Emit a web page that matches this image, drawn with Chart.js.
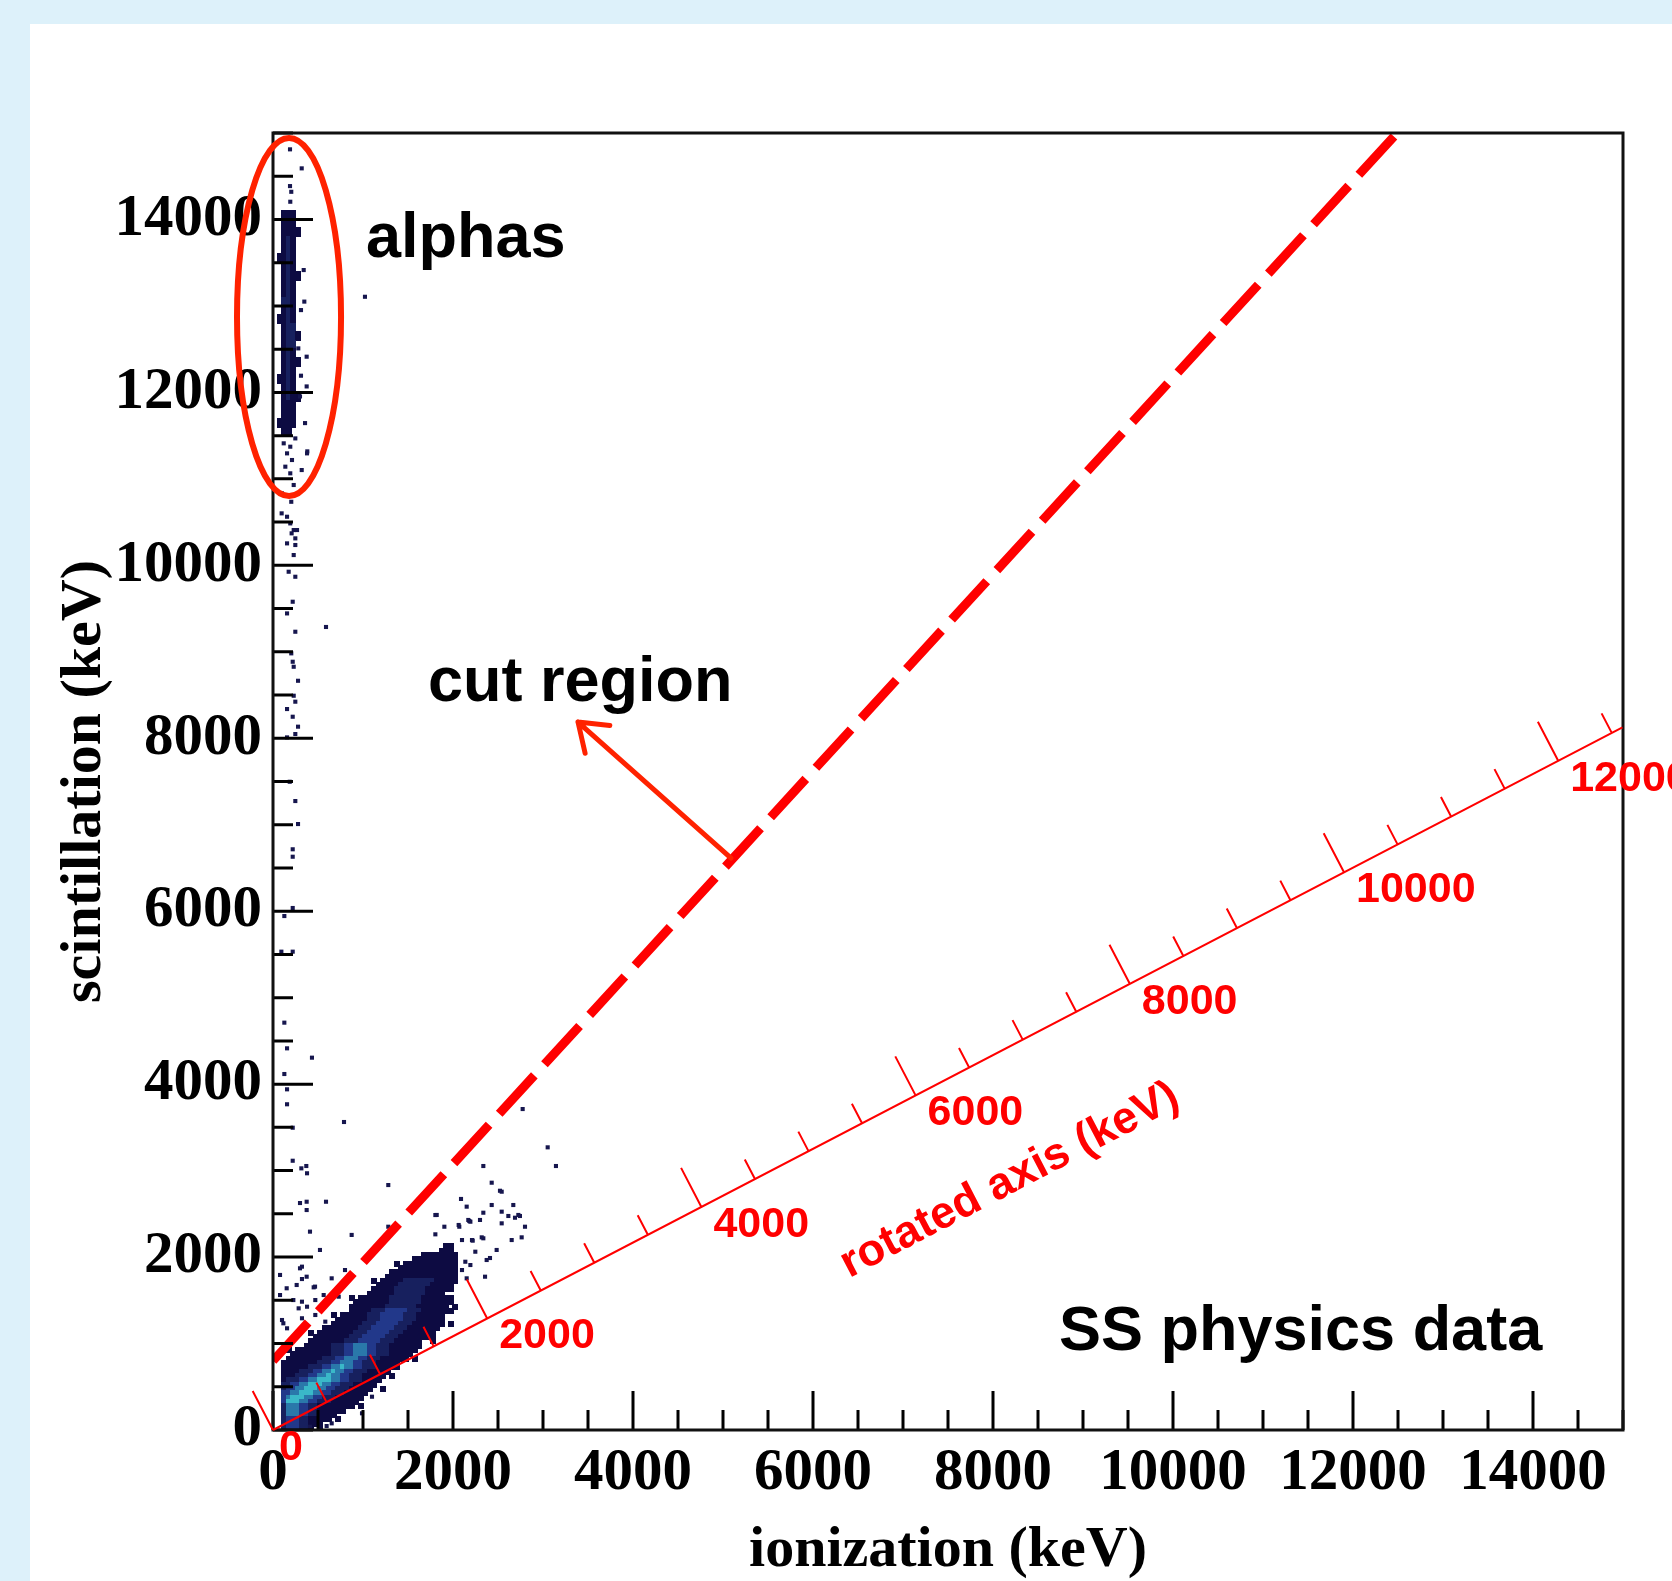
<!DOCTYPE html>
<html>
<head>
<meta charset="utf-8">
<script src="https://cdn.jsdelivr.net/npm/chart.js@4"></script>
<style>
  html, body { margin: 0; padding: 0; background: #ddf1fa; }
</style>
</head>
<body>
<canvas id="chart" width="1672" height="1581"></canvas>
<script>
const W = 1672, H = 1581;

// main axes (keV)
const xTicks = [0, 2000, 4000, 6000, 8000, 10000, 12000, 14000];
const yTicks = [0, 2000, 4000, 6000, 8000, 10000, 12000, 14000];
const axisMax = 15000;
const minorStep = 500;

// cut line
const cutLine = [{ x: 0, y: 800 }, { x: 12490, y: 15000 }];

// rotated axis: ticks in rotated keV, direction in (ionization, scintillation) keV per rotated keV
const rotTicks = [0, 2000, 4000, 6000, 8000, 10000, 12000];
const rotAxisMax = 12600;
const rotDir = [1.19, 0.645];

// gamma/beta band, 50 keV cells. each row: [first column, levels], top row first (2100-2150 keV)
// digit = colour level, '.' = empty
const blobBin = 50;
const blobTop = 2150;
const blobRows = [
  [38, "11"],
  [37, "111"],
  [33, "11111111"],
  [31, "1111111111"],
  [27, "1.111111111111"],
  [28, "1111111111111"],
  [26, "111111111111111"],
  [25, "1111111111111111"],
  [22, "1.11111222222211111"],
  [23, "11111222222211111"],
  [22, "111112222222111111"],
  [21, "11111122222221111."],
  [17, "1.111111122222221111111"],
  [18, "1111111122222221111111"],
  [17, "1111111122222221111111.1"],
  [16, ".11111222333332221111111"],
  [13, "1.11111122233333222111111"],
  [14, "111111122233333222111111"],
  [13, "1111111222333332221111111.1"],
  [11, "11111111222333332221111111"],
  [8,  "1.11111111222333332221111111"],
  [9,  "111111112223333322211111111."],
  [8,  "1111111122233333222111111..1"],
  [7,  "11111122233444332221111111"],
  [3,  "1.111111112223344433222111111"],
  [4,  "111111111222334443322211111"],
  [3,  "111111112223344433222111111.1"],
  [2,  "11111111222334443322211111."],
  [2,  "11111122233445443322211111"],
  [2,  "111122233445443322211111"],
  [2,  "11122233445443322211111.1"],
  [2,  "1222334455544332221111"],
  [2,  "223344555443322211111"],
  [2,  "23344555443322211111..1"],
  [2,  "3344555443322211111"],
  [2,  "345554433222111111"],
  [2,  "35554433222111111"],
  [2,  "2444332211111111.1"],
  [2,  "24443322111111"],
  [2,  "244433221111"],
  [2,  "23332211111.1"],
  [2,  "233322111"],
  [2,  "2333221.1"]
];

// alpha band, 50 x 100 keV cells, columns from 50 keV, top row first (14000-14100 keV)
const alphaBinX = 50, alphaBinY = 100, alphaX0 = 50, alphaTop = 14100;
const alphaRows = [
  [1, "111"], [1, "111"], [1, "1111"], [1, "121"], [1, "121"], [0, "1121"],
  [1, "121"], [1, "1211"], [1, "121"], [1, "121"], [1, "221"], [1, "121"],
  [0, "1121"], [1, "122"], [1, "1221"], [1, "122"], [1, "121"], [1, "1211"],
  [1, "121"], [0, "1121"], [1, "121"], [1, "1211"], [1, "111"], [1, "111"],
  [0, "1111"], [1, "11"]
];

// isolated events [ionization, scintillation]
const strays = [
  [189,14811],[319,14591],[189,14386],[203,14320],[192,14205],[341,13415],[1022,13106],[348,13050],
  [311,12952],[281,12509],[374,12413],[311,12193],[374,12069],[300,11953],[356,11645],[381,11318],
  [319,11102],[248,11468],[119,11411],[192,11372],[156,11295],[378,11295],[211,11218],[137,11141],
  [192,11064],[230,10929],[100,10832],[203,10735],[96,10601],[156,10562],[192,10485],[230,10408],
  [267,10408],[207,10370],[248,10312],[156,10254],[248,10235],[230,10119],[174,9926],[248,9868],
  [219,9579],[156,9444],[589,9287],[248,9232],[203,8982],[219,8885],[230,8827],[278,8665],
  [230,8492],[248,8423],[156,8338],[219,8249],[278,8134],[248,8049],[156,8010],[186,7497],
  [248,7274],[278,7008],[219,6716],[219,6630],[219,6037],[126,5944],[93,5532],[219,5532],
  [126,4711],[156,4414],[433,4306],[126,4117],[156,3940],[156,3767],[789,3562],[219,3496],
  [219,3114],[315,3026],[370,3053],[378,2969],
  [2774,3712],[3052,3269],[3144,3053],[2337,3053],[1281,2833],[2430,2860],[2522,2767],[2541,2756],
  [2089,2672],[300,2625],[374,2640],[589,2640],[374,2544],[2152,2583],[2430,2602],[2670,2602],
  [2541,2525],[2726,2487],[1819,2487],[2337,2513],[2615,2475],[2689,2455],[2744,2475],[2181,2417],
  [2541,2390],[2800,2351],[1904,2351],[2070,2351],[411,2294],[874,2256],[1281,2351],[2170,2429],
  [2300,2429],[2337,2217],[2652,2197],[2763,2228],[2319,2228],[2219,2190],[2485,2082],[2374,1966],
  [522,2082],[78,1793],[300,1870],[374,1773],[152,1639],[263,1677],[467,1658],[652,1754],
  [800,1850],[78,1561],[226,1503],[115,1234],[322,1889],[322,1746],[452,1650],[322,1484],
  [470,1503],[730,1542],[285,1407],[378,1426],[563,1561],[100,1272],[156,1176],[322,1292],
  [470,1330],[581,1253],[1804,2486],[2063,2371],[2193,2409],[1804,2263],[2100,2197],[2211,2197],
  [2248,2062],[2137,1946],[2100,1850],[2193,1908],[2356,1773],[2152,1754],[2411,1989],
  [1100,385],[989,193],[411,38],[596,46],[652,77]
];

const levelColors = [null, '#0d0b42', '#17205e', '#22388a', '#2a78aa', '#3ab8c8'];

function cellsFromRows(rows, x0, yTop, bx, by) {
  const pts = [];
  rows.forEach(([start, lv], r) => {
    for (let k = 0; k < lv.length; k++) {
      if (lv[k] === '.') continue;
      pts.push({ x: x0 + (start + k + 0.5) * bx, y: yTop - (r + 0.5) * by, lv: +lv[k] });
    }
  });
  return pts;
}

const cellCache = {};
function cellImage(context) {
  const raw = context.raw;
  if (!raw || !raw.lv) return 'rect';
  const ds = context.dataset;
  const xs = context.chart.scales.x, ys = context.chart.scales.y;
  const w = Math.ceil(Math.abs(xs.getPixelForValue(ds.binX) - xs.getPixelForValue(0))) + 1;
  const h = Math.ceil(Math.abs(ys.getPixelForValue(ds.binY) - ys.getPixelForValue(0))) + 1;
  const key = raw.lv + ':' + w + 'x' + h;
  if (!cellCache[key]) {
    const cv = document.createElement('canvas');
    cv.width = w; cv.height = h;
    const g = cv.getContext('2d');
    g.fillStyle = levelColors[raw.lv];
    g.fillRect(0, 0, w, h);
    cellCache[key] = cv;
  }
  return cellCache[key];
}

const serif = { family: 'Liberation Serif', weight: 'bold', size: 59, lineHeight: 1 };
const serifTitle = { family: 'Liberation Serif', weight: 'bold', size: 58, lineHeight: 1 };

const decor = {
  id: 'decor',
  beforeDraw(chart) {
    const c = chart.ctx;
    c.save();
    c.fillStyle = '#ddf1fa';
    c.fillRect(0, 0, W, H);
    c.fillStyle = '#ffffff';
    c.fillRect(30, 24, W - 30, H - 24);
    c.restore();
  },
  afterDatasetsDraw(chart) {
    const c = chart.ctx, a = chart.chartArea;
    const xs = chart.scales.x, ys = chart.scales.y;
    const P = (x, y) => [xs.getPixelForValue(x), ys.getPixelForValue(y)];
    c.save();

    // inward ticks on the main axes
    c.strokeStyle = '#000';
    c.lineWidth = 3;
    c.beginPath();
    for (let v = 0; v <= axisMax; v += minorStep) {
      const px = xs.getPixelForValue(v);
      c.moveTo(px, a.bottom);
      c.lineTo(px, a.bottom - (xTicks.includes(v) ? 39 : 20));
      const py = ys.getPixelForValue(v);
      c.moveTo(a.left, py);
      c.lineTo(a.left + (yTicks.includes(v) ? 40 : 20), py);
    }
    c.stroke();
    c.strokeStyle = '#111';
    c.strokeRect(a.left, a.top, a.right - a.left, a.bottom - a.top);

    // rotated axis
    const R = v => P(v * rotDir[0], v * rotDir[1]);
    const p0 = R(0), p1 = R(rotAxisMax);
    const len = Math.hypot(p1[0] - p0[0], p1[1] - p0[1]);
    const ux = (p1[0] - p0[0]) / len, uy = (p1[1] - p0[1]) / len;
    const nx = uy, ny = -ux;
    c.strokeStyle = '#ff0000';
    c.lineWidth = 2;
    c.beginPath();
    c.moveTo(p0[0], p0[1]);
    c.lineTo(p1[0], p1[1]);
    for (let v = 0; v <= rotAxisMax; v += minorStep) {
      const p = R(v);
      const L = rotTicks.includes(v) ? 44 : 22;
      c.moveTo(p[0], p[1]);
      c.lineTo(p[0] + nx * L, p[1] + ny * L);
    }
    c.stroke();
    c.fillStyle = '#ff0000';
    c.font = 'bold 43px "Liberation Sans"';
    c.textAlign = 'left';
    c.textBaseline = 'middle';
    rotTicks.forEach(v => {
      const p = R(v);
      c.fillText(String(v), p[0] + (v === 0 ? 6 : 12), p[1] + 18);
    });
    const pm = R(rotAxisMax / 2);
    c.save();
    c.translate(pm[0] - nx * 119 + ux * 8, pm[1] - ny * 119 + uy * 8);
    c.rotate(Math.atan2(uy, ux));
    c.font = 'bold 45px "Liberation Sans"';
    c.textAlign = 'center';
    c.fillText('rotated axis (keV)', 0, 0);
    c.restore();

    // alpha ellipse
    const ec = P(178, 12872);
    const rx = xs.getPixelForValue(178 + 578) - ec[0];
    const ry = ec[1] - ys.getPixelForValue(12872 + 2070);
    c.strokeStyle = '#ff2200';
    c.lineWidth = 6;
    c.beginPath();
    c.ellipse(ec[0], ec[1], rx, ry, 0, 0, Math.PI * 2);
    c.stroke();

    // arrow to "cut region"
    const s = P(5089, 6615), e = P(3389, 8188);
    const ang = Math.atan2(s[1] - e[1], s[0] - e[0]);
    c.lineWidth = 5;
    c.lineCap = 'round';
    c.beginPath();
    c.moveTo(s[0], s[1]);
    c.lineTo(e[0], e[1]);
    [0.62, -0.62].forEach(d => {
      c.moveTo(e[0], e[1]);
      c.lineTo(e[0] + 32 * Math.cos(ang + d), e[1] + 32 * Math.sin(ang + d));
    });
    c.stroke();

    // labels
    c.fillStyle = '#000';
    c.font = 'bold 63px "Liberation Sans"';
    c.textAlign = 'left';
    c.textBaseline = 'alphabetic';
    let t = P(1033, 13565);
    c.fillText('alphas', t[0], t[1]);
    t = P(1722, 8430);
    c.fillText('cut region', t[0], t[1]);
    t = P(8733, 925);
    c.fillText('SS physics data', t[0], t[1]);
    c.restore();
  }
};

new Chart(document.getElementById('chart'), {
  type: 'scatter',
  data: {
    datasets: [
      {
        type: 'line',
        label: 'cut',
        data: cutLine,
        borderColor: '#ff0000',
        borderWidth: 9,
        borderDash: [52, 15],
        pointRadius: 0,
        fill: false,
        tension: 0,
        order: 0
      },
      {
        label: 'single events',
        data: strays.map(p => ({ x: p[0], y: p[1] })),
        pointStyle: 'rect',
        pointRadius: 2.9,
        pointBorderWidth: 0,
        pointBackgroundColor: '#16164e',
        order: 1
      },
      {
        label: 'alphas',
        data: cellsFromRows(alphaRows, alphaX0, alphaTop, alphaBinX, alphaBinY),
        binX: alphaBinX, binY: alphaBinY,
        pointStyle: cellImage,
        pointRadius: 3,
        order: 2
      },
      {
        label: 'gammas',
        data: cellsFromRows(blobRows, 0, blobTop, blobBin, blobBin),
        binX: blobBin, binY: blobBin,
        pointStyle: cellImage,
        pointRadius: 3,
        order: 3
      }
    ]
  },
  options: {
    responsive: false,
    animation: false,
    events: [],
    layout: { padding: { top: 133, right: 49, bottom: 0, left: 0 } },
    plugins: { legend: { display: false }, tooltip: { enabled: false } },
    scales: {
      x: {
        type: 'linear',
        min: 0,
        max: axisMax,
        afterBuildTicks: s => { s.ticks = xTicks.map(v => ({ value: v })); },
        afterFit: s => { s.height = 151; },
        grid: { display: false, drawTicks: false },
        border: { display: false },
        ticks: { font: serif, color: '#000', padding: 14, maxRotation: 0, autoSkip: false, callback: v => String(v) },
        title: { display: true, text: 'ionization (keV)', font: serifTitle, color: '#000', padding: { top: 0, bottom: 1 } }
      },
      y: {
        type: 'linear',
        min: 0,
        max: axisMax,
        afterBuildTicks: s => { s.ticks = yTicks.map(v => ({ value: v })); },
        afterFit: s => { s.width = 273; },
        grid: { display: false, drawTicks: false },
        border: { display: false },
        ticks: { font: serif, color: '#000', padding: 11, autoSkip: false, callback: v => String(v) },
        title: { display: true, text: 'scintillation (keV)', font: serifTitle, color: '#000', padding: { top: 56, bottom: 0 } }
      }
    }
  },
  plugins: [decor]
});
</script>
</body>
</html>
